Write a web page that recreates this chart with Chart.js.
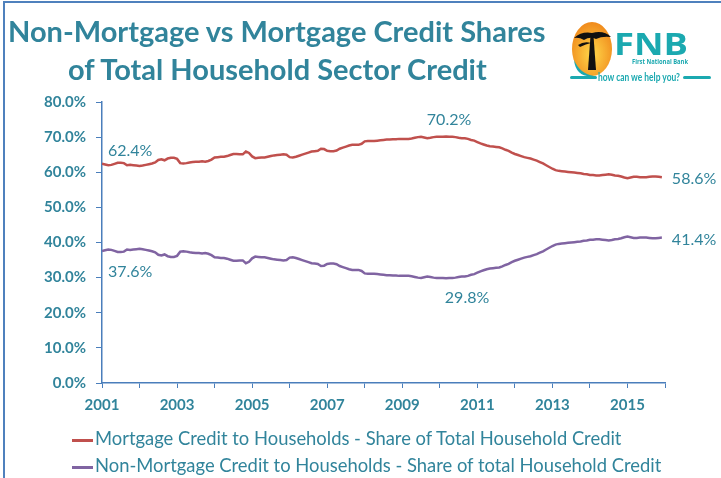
<!DOCTYPE html>
<html lang="en">
<head>
  <meta charset="UTF-8">
  <title>Non-Mortgage vs Mortgage Credit Shares</title>
  <script src="https://cdn.jsdelivr.net/npm/chart.js"></script>
  <style>
    body {
      margin: 0;
      background: #ffffff;
      font-family: 'Lato', sans-serif;
    }
    #wrap {
      position: relative;
      width: 721px;
      height: 478px;
      overflow: hidden;
    }
    #chart {
      position: absolute;
      left: 0;
      top: 0;
    }
    #frame {
      position: absolute;
      left: 3px;
      top: 1px;
      width: 760px;
      height: 520px;
      border-left: 2px solid #4f81bd;
      border-top: 2px solid #4f81bd;
    }
    .title {
      position: absolute;
      color: #31849b;
      font-weight: bold;
      font-size: 29px;
      white-space: nowrap;
    }
    #logo {
      position: absolute;
      left: 566px;
      top: 14px;
    }
    .legend {
      position: absolute;
      left: 72px;
      color: #31849b;
      font-size: 18.4px;
      white-space: nowrap;
    }
    .legend span {
      display: inline-block;
      width: 21px;
      height: 3px;
      vertical-align: middle;
      margin-right: 2px;
    }
  </style>
</head>
<body>
<div id="wrap">
  <canvas id="chart" width="721" height="478"></canvas>
  <div id="frame"></div>
  <div class="title" style="left:8px; top:13px;">Non-Mortgage vs Mortgage Credit Shares</div>
  <div class="title" style="left:68px; top:51px;">of Total Household Sector Credit</div>

  <svg id="logo" width="150" height="72">
    <defs>
      <radialGradient id="sun" cx="50%" cy="60%" r="60%">
        <stop offset="0%" stop-color="#ffd84a"/>
        <stop offset="100%" stop-color="#f08a1c"/>
      </radialGradient>
    </defs>
    <ellipse cx="26" cy="35" rx="20" ry="27" fill="url(#sun)"/>
    <path d="M8 46 Q10 64 28 62 Q14 60 8 46 Z" fill="#1ba9b0"/>
    <path d="M8 24 Q16 17 26 19 Q38 16 45 23 Q36 22 30 25 Q24 22 18 26 Q13 23 8 24 Z" fill="#111"/>
    <path d="M12 31 Q18 27 25 29 Q20 30 14 33 Z" fill="#111"/>
    <polygon points="24.5,22 27.5,22 30,56 22,56" fill="#111"/>
    <text x="48" y="41" font-family="Open Sans" font-weight="bold" font-size="30" fill="#1ba9b0" textLength="74" lengthAdjust="spacingAndGlyphs">FNB</text>
    <text x="66" y="50" font-family="Open Sans" font-weight="bold" font-size="7" fill="#1ba9b0" textLength="56" lengthAdjust="spacingAndGlyphs">First National Bank</text>
    <rect x="4" y="62" width="27" height="3" rx="1.5" fill="#1ba9b0"/>
    <text x="32" y="66.5" font-family="Lato" font-weight="bold" font-size="10.5" fill="#1ba9b0" textLength="82" lengthAdjust="spacingAndGlyphs">how can we help you?</text>
    <rect x="117" y="62" width="28" height="3" rx="1.5" fill="#1ba9b0"/>
  </svg>

  <div class="legend" style="top:427px;"><span style="background:#c0504d"></span>Mortgage Credit to Households - Share of Total Household Credit</div>
  <div class="legend" style="top:454px;"><span style="background:#8064a2"></span>Non-Mortgage Credit to Households - Share of total Household Credit</div>
</div>

<script>
  // Monthly shares (%), Jan 2001 .. Dec 2015
  const startYear = 2001;
  const endYear = 2016;
  const yearLabels = [2001, 2003, 2005, 2007, 2009, 2011, 2013, 2015];

  const mortgageShare = [
    62.4, 62.2, 62.0, 62.1, 62.4, 62.7, 62.7, 62.6, 62.0, 62.1, 62.0, 61.9, // 2001
    61.8, 61.9, 62.1, 62.3, 62.5, 62.8, 63.5, 63.7, 63.4, 63.9, 64.1, 64.1, // 2002
    63.8, 62.6, 62.5, 62.6, 62.8, 62.9, 63.0, 63.0, 63.1, 63.0, 63.2, 63.6, // 2003
    64.2, 64.3, 64.4, 64.4, 64.6, 64.9, 65.2, 65.2, 65.1, 65.1, 65.9, 65.5, // 2004
    64.5, 64.0, 64.1, 64.2, 64.2, 64.4, 64.6, 64.8, 64.9, 65.0, 65.1, 65.0, // 2005
    64.3, 64.2, 64.4, 64.7, 65.0, 65.3, 65.6, 65.9, 66.0, 66.1, 66.7, 66.6, // 2006
    66.1, 66.0, 66.0, 66.2, 66.7, 67.0, 67.3, 67.6, 67.8, 67.8, 67.8, 68.1, // 2007
    68.8, 68.9, 68.9, 68.9, 69.0, 69.1, 69.2, 69.3, 69.3, 69.4, 69.4, 69.5, // 2008
    69.5, 69.5, 69.5, 69.6, 69.8, 70.0, 70.1, 69.9, 69.7, 69.8, 70.0, 70.1, // 2009
    70.1, 70.1, 70.2, 70.1, 70.1, 70.0, 69.8, 69.7, 69.7, 69.5, 69.2, 69.0, // 2010
    68.6, 68.2, 67.9, 67.6, 67.4, 67.3, 67.2, 67.1, 66.8, 66.4, 66.1, 65.6, // 2011
    65.2, 64.9, 64.6, 64.3, 64.1, 63.9, 63.6, 63.3, 62.9, 62.5, 62.0, 61.5, // 2012
    61.0, 60.6, 60.4, 60.3, 60.2, 60.1, 60.0, 59.9, 59.8, 59.7, 59.5, 59.4, // 2013
    59.2, 59.2, 59.1, 59.1, 59.2, 59.3, 59.4, 59.3, 59.1, 59.0, 58.8, 58.5, // 2014
    58.3, 58.5, 58.7, 58.7, 58.6, 58.6, 58.6, 58.7, 58.8, 58.8, 58.7, 58.6  // 2015
  ];

  const nonMortgageShare = [
    37.6, 37.8, 38.0, 37.9, 37.6, 37.3, 37.3, 37.4, 38.0, 37.9, 38.0, 38.1, // 2001
    38.2, 38.1, 37.9, 37.7, 37.5, 37.2, 36.5, 36.3, 36.6, 36.1, 35.9, 35.9, // 2002
    36.2, 37.4, 37.5, 37.4, 37.2, 37.1, 37.0, 37.0, 36.9, 37.0, 36.8, 36.4, // 2003
    35.8, 35.7, 35.6, 35.6, 35.4, 35.1, 34.8, 34.8, 34.9, 34.9, 34.1, 34.5, // 2004
    35.5, 36.0, 35.9, 35.8, 35.8, 35.6, 35.4, 35.2, 35.1, 35.0, 34.9, 35.0, // 2005
    35.7, 35.8, 35.6, 35.3, 35.0, 34.7, 34.4, 34.1, 34.0, 33.9, 33.3, 33.4, // 2006
    33.9, 34.0, 34.0, 33.8, 33.3, 33.0, 32.7, 32.4, 32.2, 32.2, 32.2, 31.9, // 2007
    31.2, 31.1, 31.1, 31.1, 31.0, 30.9, 30.8, 30.7, 30.7, 30.6, 30.6, 30.5, // 2008
    30.5, 30.5, 30.5, 30.4, 30.2, 30.0, 29.9, 30.1, 30.3, 30.2, 30.0, 29.9, // 2009
    29.9, 29.9, 29.8, 29.9, 29.9, 30.0, 30.2, 30.3, 30.3, 30.5, 30.8, 31.0, // 2010
    31.4, 31.8, 32.1, 32.4, 32.6, 32.7, 32.8, 32.9, 33.2, 33.6, 33.9, 34.4, // 2011
    34.8, 35.1, 35.4, 35.7, 35.9, 36.1, 36.4, 36.7, 37.1, 37.5, 38.0, 38.5, // 2012
    39.0, 39.4, 39.6, 39.7, 39.8, 39.9, 40.0, 40.1, 40.2, 40.3, 40.5, 40.6, // 2013
    40.8, 40.8, 40.9, 40.9, 40.8, 40.7, 40.6, 40.7, 40.9, 41.0, 41.2, 41.5, // 2014
    41.7, 41.5, 41.3, 41.3, 41.4, 41.4, 41.4, 41.3, 41.2, 41.2, 41.3, 41.4  // 2015
  ];

  const teal = '#31849b';
  const axisColor = '#4a7ebb';

  const toPoints = arr => arr.map((v, i) => ({ x: startYear + i / 12, y: v }));

  const peakIdx = mortgageShare.indexOf(Math.max(...mortgageShare));
  const lowIdx = nonMortgageShare.indexOf(Math.min(...nonMortgageShare));
  const lastIdx = mortgageShare.length - 1;

  // value labels: dataset, index, offset from the point, text alignment
  const callouts = [
    { ds: 0, i: 0, dx: 6, dy: -13, align: 'left' },
    { ds: 1, i: 0, dx: 6, dy: 21, align: 'left' },
    { ds: 0, i: peakIdx, dx: 3, dy: -17, align: 'center' },
    { ds: 1, i: lowIdx, dx: 21, dy: 20, align: 'center' },
    { ds: 0, i: lastIdx, dx: 10, dy: 2, align: 'left' },
    { ds: 1, i: lastIdx, dx: 10, dy: 2, align: 'left' }
  ];

  const calloutPlugin = {
    id: 'callouts',
    afterDatasetsDraw(chart) {
      const ctx = chart.ctx;
      ctx.save();
      ctx.font = '16px Lato';
      ctx.fillStyle = teal;
      ctx.textBaseline = 'middle';
      callouts.forEach(c => {
        const pt = chart.data.datasets[c.ds].data[c.i];
        const px = chart.scales.x.getPixelForValue(pt.x);
        const py = chart.scales.y.getPixelForValue(pt.y);
        ctx.textAlign = c.align;
        ctx.fillText(pt.y.toFixed(1) + '%', px + c.dx, py + c.dy);
      });
      ctx.restore();
    }
  };

  const ctx = document.getElementById('chart').getContext('2d');
  const chart = new Chart(ctx, {
    type: 'line',
    data: {
      datasets: [
        {
          label: 'Mortgage Credit to Households - Share of Total Household Credit',
          data: toPoints(mortgageShare),
          borderColor: '#c0504d',
          borderWidth: 2.5,
          pointRadius: 0,
          tension: 0
        },
        {
          label: 'Non-Mortgage Credit to Households - Share of total Household Credit',
          data: toPoints(nonMortgageShare),
          borderColor: '#8064a2',
          borderWidth: 2.5,
          pointRadius: 0,
          tension: 0
        }
      ]
    },
    options: {
      responsive: false,
      animation: false,
      layout: { padding: { left: 20, top: 102, right: 56, bottom: 55 } },
      plugins: {
        legend: { display: false },
        tooltip: { enabled: false }
      },
      scales: {
        x: {
          type: 'linear',
          min: startYear,
          max: endYear,
          afterFit: s => { s.height = 40; },
          ticks: {
            stepSize: 1,
            autoSkip: false,
            maxRotation: 0,
            padding: 8,
            color: teal,
            font: { family: 'Lato', size: 15, weight: 'bold' },
            callback: v => yearLabels.includes(v) ? String(v) : ''
          },
          grid: { drawOnChartArea: false, drawTicks: true, tickLength: 5, color: axisColor },
          border: { color: axisColor, width: 1.5 }
        },
        y: {
          min: 0,
          max: 80,
          afterFit: s => { s.width = 82; },
          ticks: {
            stepSize: 10,
            padding: 10,
            color: teal,
            font: { family: 'Lato', size: 15, weight: 'bold' },
            callback: v => v.toFixed(1) + '%'
          },
          grid: { drawOnChartArea: false, drawTicks: true, tickLength: 6, color: axisColor },
          border: { color: axisColor, width: 1.5 }
        }
      }
    },
    plugins: [calloutPlugin]
  });
</script>
</body>
</html>
